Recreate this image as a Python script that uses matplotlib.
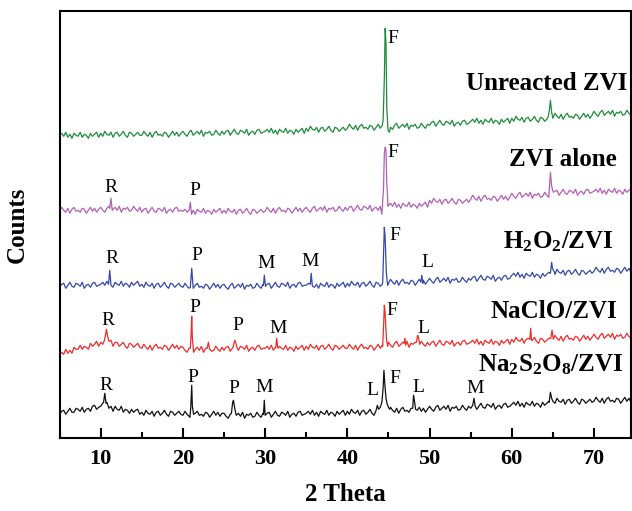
import numpy as np
import matplotlib.pyplot as plt
from matplotlib.ticker import MultipleLocator

plt.rcParams['font.family'] = 'Liberation Serif'
plt.rcParams['mathtext.fontset'] = 'custom'
plt.rcParams['mathtext.bf'] = 'Liberation Serif:bold'
plt.rcParams['mathtext.rm'] = 'Liberation Serif:bold'
plt.rcParams['mathtext.default'] = 'bf'

# scan grid, 0.25 degree step from 5 to 74.75
two_theta = np.arange(280) * 0.25 + 5.0

# counts (arbitrary units, offset per pattern)
unreacted = [
    303, 305, 302, 306, 301, 304, 300, 305, 303, 302, 306, 301, 304, 303, 300, 305, 302, 304, 306, 301,
    305, 302, 307, 304, 303, 306, 301, 305, 306, 302, 304, 307, 303, 301, 306, 305, 302, 304, 306, 303,
    303, 307, 304, 302, 306, 301, 305, 307, 303, 304, 302, 306, 305, 301, 304, 307, 303, 306, 302, 305,
    307, 304, 302, 306, 308, 303, 305, 307, 304, 308, 302, 306, 305, 307, 303, 304, 308, 305, 303, 307,
    304, 307, 308, 303, 306, 309, 305, 304, 308, 307, 305, 309, 303, 306, 307, 304, 308, 309, 305, 306,
    307, 309, 306, 310, 305, 308, 304, 309, 307, 306, 310, 305, 308, 307, 304, 309, 306, 308, 310, 305,
    310, 307, 312, 309, 308, 311, 306, 310, 311, 307, 309, 312, 308, 306, 311, 310, 307, 309, 311, 308,
    310, 314, 311, 309, 313, 308, 312, 314, 310, 311, 309, 313, 312, 308, 311, 314, 310, 313, 309, 312,
    314, 311, 309, 313, 315, 310, 312, 314, 311, 315, 309, 313, 312, 314, 310, 311, 315, 312, 310, 314,
    313, 316, 317, 312, 315, 318, 314, 313, 317, 316, 314, 318, 312, 315, 316, 313, 317, 318, 314, 315,
    317, 319, 316, 320, 315, 318, 314, 319, 317, 316, 320, 315, 318, 317, 314, 319, 316, 318, 320, 315,
    320, 317, 322, 319, 318, 321, 316, 320, 321, 317, 319, 322, 318, 316, 321, 320, 317, 319, 321, 318,
    321, 325, 322, 320, 324, 319, 323, 325, 321, 322, 320, 324, 323, 319, 322, 325, 321, 324, 320, 323,
    327, 324, 322, 326, 328, 323, 325, 327, 324, 328, 322, 326, 325, 327, 323, 324, 328, 325, 323, 327,
]
unreacted_peak_x = [[44.35, 44.5, 44.6, 44.7, 44.8, 44.95, 45.1],
                    [64.45, 64.6, 64.7, 64.85, 65.0]]
unreacted_peak_y = [[318, 360, 410, 395, 330, 308, 306],
                    [322, 330, 338, 326, 320]]

zvi_alone = [
    227, 231, 228, 226, 230, 225, 229, 231, 227, 228, 226, 230, 229, 225, 228, 231, 227, 230, 226, 229,
    231, 228, 226, 230, 232, 227, 229, 231, 228, 232, 226, 230, 229, 231, 227, 228, 232, 229, 227, 231,
    226, 229, 230, 225, 228, 231, 227, 226, 230, 229, 227, 231, 225, 228, 229, 226, 230, 231, 227, 228,
    227, 229, 226, 230, 225, 228, 224, 229, 227, 226, 230, 225, 228, 227, 224, 229, 226, 228, 230, 225,
    228, 225, 230, 227, 226, 229, 224, 228, 229, 225, 227, 230, 226, 224, 229, 228, 225, 227, 229, 226,
    227, 231, 228, 226, 230, 225, 229, 231, 227, 228, 226, 230, 229, 225, 228, 231, 227, 230, 226, 229,
    231, 228, 226, 230, 232, 227, 229, 231, 228, 232, 226, 230, 229, 231, 227, 228, 232, 229, 227, 231,
    228, 231, 232, 227, 230, 233, 229, 228, 232, 231, 229, 233, 227, 230, 231, 228, 232, 233, 229, 230,
    233, 235, 232, 236, 231, 234, 230, 235, 233, 232, 236, 231, 234, 233, 230, 235, 232, 234, 236, 231,
    238, 235, 240, 237, 236, 239, 234, 238, 239, 235, 237, 240, 236, 234, 239, 238, 235, 237, 239, 236,
    239, 243, 240, 238, 242, 237, 241, 243, 239, 240, 238, 242, 241, 237, 240, 243, 239, 242, 238, 241,
    245, 242, 240, 244, 246, 241, 243, 245, 242, 246, 240, 244, 243, 245, 241, 242, 246, 243, 241, 245,
    244, 247, 248, 243, 246, 249, 245, 244, 248, 247, 245, 249, 243, 246, 247, 244, 248, 249, 245, 246,
    247, 249, 246, 250, 245, 248, 244, 249, 247, 246, 250, 245, 248, 247, 244, 249, 246, 248, 250, 245,
]
zvi_alone_peak_x = [[11.1, 11.25, 11.4], [20.75, 20.9, 21.05, 21.2],
                    [44.2, 44.4, 44.5, 44.6, 44.7, 44.8, 44.95],
                    [64.55, 64.7, 64.85, 65.05]]
zvi_alone_peak_y = [[230, 240, 228], [228, 236, 224, 227],
                    [224, 250, 285, 291, 288, 255, 232],
                    [247, 266, 252, 246]]

h2o2 = [
    151, 154, 155, 150, 153, 156, 152, 151, 155, 154, 152, 156, 150, 153, 154, 151, 155, 156, 152, 153,
    154, 156, 153, 157, 152, 155, 151, 156, 154, 153, 157, 152, 155, 154, 151, 156, 153, 155, 157, 152,
    154, 151, 156, 153, 152, 155, 150, 154, 155, 151, 153, 156, 152, 150, 155, 154, 151, 153, 155, 152,
    151, 155, 152, 150, 154, 149, 153, 155, 151, 152, 150, 154, 153, 149, 152, 155, 151, 154, 150, 153,
    154, 151, 149, 153, 155, 150, 152, 154, 151, 155, 149, 153, 152, 154, 150, 151, 155, 152, 150, 154,
    151, 154, 155, 150, 153, 156, 152, 151, 155, 154, 152, 156, 150, 153, 154, 151, 155, 156, 152, 153,
    153, 155, 152, 156, 151, 154, 150, 155, 153, 152, 156, 151, 154, 153, 150, 155, 152, 154, 156, 151,
    155, 152, 157, 154, 153, 156, 151, 155, 156, 152, 154, 157, 153, 151, 156, 155, 152, 154, 156, 153,
    155, 159, 156, 154, 158, 153, 157, 159, 155, 156, 154, 158, 157, 153, 156, 159, 155, 158, 154, 157,
    160, 157, 155, 159, 161, 156, 158, 160, 157, 161, 155, 159, 158, 160, 156, 157, 161, 158, 156, 160,
    158, 161, 162, 157, 160, 163, 159, 158, 162, 161, 159, 163, 157, 160, 161, 158, 162, 163, 159, 160,
    163, 165, 162, 166, 161, 164, 160, 165, 163, 162, 166, 161, 164, 163, 160, 165, 162, 164, 166, 161,
    167, 164, 169, 166, 165, 168, 163, 167, 168, 164, 166, 169, 165, 163, 168, 167, 164, 166, 168, 165,
    167, 171, 168, 166, 170, 165, 169, 171, 167, 168, 166, 170, 169, 165, 168, 171, 167, 170, 166, 169,
]
h2o2_peak_x = [[10.95, 11.1, 11.25], [20.9, 21.07, 21.25], [29.8, 29.9, 30.05],
               [35.5, 35.6, 35.75], [44.3, 44.42, 44.5, 44.6, 44.75, 44.9],
               [48.95, 49.05, 49.2], [64.7, 64.85, 64.95, 65.2]]
h2o2_peak_y = [[154, 168, 153], [151, 170, 150], [153, 163, 152],
               [154, 165, 152], [156, 190, 211, 200, 165, 153],
               [156, 163, 155], [165, 176, 170, 166]]

naclo = [
    83, 86, 84, 89, 85, 88, 85, 91, 89, 89, 93, 89, 92, 91, 89, 95, 92, 94, 97, 92,
    96, 94, 97, 96, 95, 98, 92, 96, 96, 92, 94, 96, 92, 90, 95, 94, 91, 93, 95, 91,
    90, 94, 91, 89, 93, 88, 92, 94, 90, 91, 89, 93, 92, 88, 91, 94, 90, 93, 89, 92,
    91, 88, 86, 90, 92, 87, 89, 91, 88, 92, 86, 90, 89, 91, 87, 88, 92, 89, 87, 91,
    88, 91, 92, 87, 90, 93, 89, 88, 92, 91, 89, 93, 87, 90, 91, 88, 92, 93, 89, 90,
    90, 92, 89, 93, 88, 91, 87, 92, 90, 89, 93, 88, 91, 90, 87, 92, 89, 91, 93, 88,
    92, 89, 94, 91, 90, 93, 88, 92, 93, 89, 91, 94, 90, 88, 93, 92, 89, 91, 93, 90,
    90, 94, 91, 89, 93, 88, 92, 94, 90, 91, 89, 93, 92, 88, 91, 94, 90, 93, 89, 92,
    96, 93, 91, 95, 97, 92, 94, 96, 93, 97, 91, 95, 94, 96, 92, 93, 97, 94, 92, 96,
    93, 96, 97, 92, 95, 98, 94, 93, 97, 96, 94, 98, 92, 95, 96, 93, 97, 98, 94, 95,
    96, 98, 95, 99, 94, 97, 93, 98, 96, 95, 99, 94, 97, 96, 93, 98, 95, 97, 99, 94,
    99, 96, 101, 98, 97, 100, 95, 99, 100, 96, 98, 101, 97, 95, 100, 99, 96, 98, 100, 97,
    99, 103, 100, 98, 102, 97, 101, 103, 99, 100, 98, 102, 101, 97, 100, 103, 99, 102, 98, 101,
    104, 101, 99, 103, 105, 100, 102, 104, 101, 105, 99, 103, 102, 104, 100, 101, 105, 102, 100, 104,
]
naclo_peak_x = [[10.45, 10.6, 10.7, 10.85, 11.0], [20.9, 21.0, 21.07, 21.15, 21.3],
                [22.95, 23.1, 23.25], [26.1, 26.3, 26.45, 26.6], [31.3, 31.4, 31.55],
                [44.3, 44.42, 44.5, 44.6, 44.75, 44.9], [46.9, 47.0, 47.1],
                [48.4, 48.55, 48.65, 48.8], [62.2, 62.3, 62.4], [64.75, 64.9, 65.05]]
naclo_peak_y = [[98, 104, 109, 102, 97], [90, 105, 122, 100, 86],
                [90, 96, 89], [91, 98, 95, 90], [91, 100, 90],
                [92, 115, 133, 125, 100, 92], [95, 100, 93],
                [96, 103, 101, 94], [99, 110, 98], [100, 108, 99]]

na2s2o8 = [
    24, 27, 28, 24, 27, 30, 26, 26, 30, 29, 27, 31, 26, 29, 30, 27, 32, 33, 29, 31,
    32, 35, 33, 36, 30, 32, 27, 32, 29, 28, 32, 26, 29, 28, 25, 29, 26, 28, 29, 24,
    26, 23, 28, 25, 24, 27, 22, 26, 27, 23, 25, 28, 24, 22, 27, 26, 23, 25, 27, 24,
    23, 27, 24, 22, 26, 21, 25, 27, 23, 24, 22, 26, 25, 21, 24, 27, 23, 26, 22, 25,
    25, 22, 20, 24, 26, 21, 23, 25, 22, 26, 20, 24, 23, 25, 21, 22, 26, 23, 21, 25,
    22, 25, 26, 21, 24, 27, 23, 22, 26, 25, 23, 27, 21, 24, 25, 22, 26, 27, 23, 24,
    25, 27, 24, 28, 23, 26, 22, 27, 25, 24, 28, 23, 26, 25, 22, 27, 24, 26, 28, 23,
    27, 24, 29, 26, 25, 28, 23, 27, 28, 24, 26, 29, 25, 23, 28, 27, 24, 26, 28, 25,
    27, 31, 28, 26, 30, 25, 29, 31, 27, 28, 26, 30, 29, 25, 28, 31, 27, 30, 26, 29,
    32, 29, 27, 31, 33, 28, 30, 32, 29, 33, 27, 31, 30, 32, 28, 29, 33, 30, 28, 32,
    30, 33, 34, 29, 32, 35, 31, 30, 34, 33, 31, 35, 29, 32, 33, 30, 34, 35, 31, 32,
    34, 36, 33, 37, 32, 35, 31, 36, 34, 33, 37, 32, 35, 34, 31, 36, 33, 35, 37, 32,
    38, 35, 40, 37, 36, 39, 34, 38, 39, 35, 37, 40, 36, 34, 39, 38, 35, 37, 39, 36,
    37, 41, 38, 36, 40, 35, 39, 41, 37, 38, 36, 40, 39, 35, 38, 41, 37, 40, 36, 39,
]
na2s2o8_peak_x = [[10.35, 10.5, 10.65], [20.85, 20.95, 21.07, 21.15, 21.3],
                  [25.9, 26.05, 26.15, 26.3, 26.45], [29.8, 29.9, 30.0],
                  [43.5, 43.65, 43.8, 44.0, 44.2, 44.35, 44.45, 44.55, 44.7, 44.85, 45.0, 45.15],
                  [47.95, 48.05, 48.15, 48.3], [55.25, 55.4, 55.55],
                  [64.55, 64.7, 64.85, 65.0]]
na2s2o8_peak_y = [[36, 45, 35], [21, 30, 53, 32, 24],
                  [25, 36, 38, 30, 24], [24, 38, 23],
                  [28, 33, 29, 31, 36, 50, 68, 55, 40, 34, 31, 29],
                  [30, 43, 38, 29], [33, 40, 32],
                  [36, 46, 40, 37]]

# phase labels: (text, 2theta, counts)
phase_labels = [
    ('F', 45.56, 400),
    ('R', 11.25, 251), ('P', 21.47, 248), ('F', 45.56, 286),
    ('R', 11.37, 180), ('P', 21.71, 183), ('M', 30.11, 175), ('M', 35.47, 177),
    ('F', 45.80, 203), ('L', 49.70, 176),
    ('R', 10.89, 118), ('P', 21.47, 131), ('P', 26.70, 113), ('M', 31.57, 110),
    ('F', 45.44, 128), ('L', 49.21, 110),
    ('R', 10.64, 53), ('P', 21.23, 61), ('P', 26.22, 50), ('M', 29.87, 51),
    ('L', 43.00, 48), ('F', 45.80, 60), ('L', 48.59, 51), ('M', 55.53, 50),
]

# sample names: (text, right edge 2theta, baseline counts)
sample_labels = [
    ('Unreacted ZVI', 74.05, 348),
    ('ZVI alone', 72.82, 272),
    ('H$_2$O$_2$/ZVI', 72.34, 190),
    ('NaClO/ZVI', 72.82, 120),
    ('Na$_2$S$_2$O$_8$/ZVI', 73.5, 67),
]


def trace(values, peak_x, peak_y):
    x = two_theta
    y = np.array(values, dtype=float)
    keep = np.ones(len(x), dtype=bool)
    for px in peak_x:
        keep &= ~((x >= min(px)) & (x <= max(px)))
    xs = np.concatenate([x[keep]] + [np.array(p, dtype=float) for p in peak_x])
    ys = np.concatenate([y[keep]] + [np.array(p, dtype=float) for p in peak_y])
    order = np.argsort(xs)
    return xs[order], ys[order]


fig = plt.figure(figsize=(6.32, 5.11), dpi=100)
ax = fig.add_axes([0.0943, 0.1423, 0.9041, 0.8368])

series = [
    (unreacted, unreacted_peak_x, unreacted_peak_y, '#1e8c3c'),
    (zvi_alone, zvi_alone_peak_x, zvi_alone_peak_y, '#b160b4'),
    (h2o2, h2o2_peak_x, h2o2_peak_y, '#3448aa'),
    (naclo, naclo_peak_x, naclo_peak_y, '#ee2b2b'),
    (na2s2o8, na2s2o8_peak_x, na2s2o8_peak_y, '#111111'),
]
for vals, px, py, col in series:
    x, y = trace(vals, px, py)
    ax.plot(x, y, color=col, lw=0.9)

for txt, x, y in phase_labels:
    ax.text(x, y, txt, fontsize=14, ha='center', va='center')

for txt, x, y in sample_labels:
    ax.text(x, y, txt, fontsize=18, fontweight='bold', ha='right', va='baseline')

ax.set_xlim(5, 74.5)
ax.set_ylim(0, 427.6)
ax.set_yticks([])
ax.xaxis.set_major_locator(MultipleLocator(10))
ax.xaxis.set_minor_locator(MultipleLocator(5))
ax.tick_params(axis='x', which='major', direction='in', length=7, width=1.5,
               labelsize=16, pad=8)
ax.tick_params(axis='x', which='minor', direction='in', length=4, width=1.5)
for lab in ax.get_xticklabels():
    lab.set_fontweight('bold')
for s in ax.spines.values():
    s.set_linewidth(1.5)

ax.set_xlabel('2 Theta', fontsize=18, fontweight='bold', labelpad=10)
ax.set_ylabel('Counts', fontsize=18, fontweight='bold')
ax.yaxis.set_label_coords(-0.054, 0.5)

fig.savefig('out.png', dpi=100)
